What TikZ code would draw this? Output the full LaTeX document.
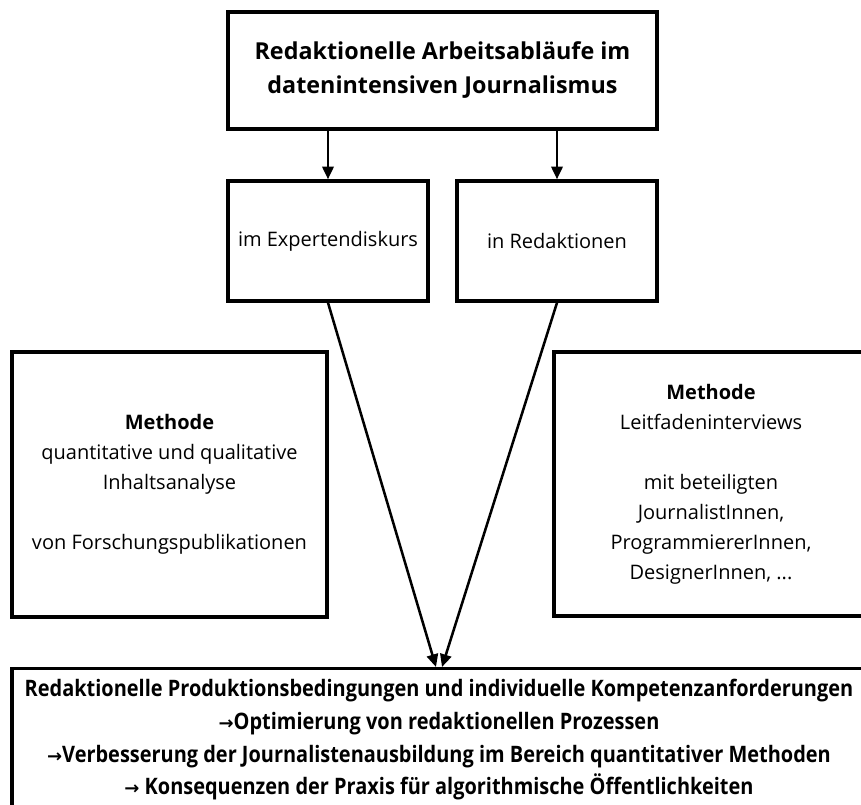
\documentclass[tikz,border=0pt]{standalone}
\usepackage{fontspec}
\setmainfont{Open Sans}
\newfontfamily\condfont[FakeStretch=0.88]{Open Sans}
\newfontfamily\arrowfont{DejaVu Sans}
\usetikzlibrary{arrows.meta,positioning}

\tikzset{
  box/.style = {draw, line width=2.6pt, align=center, inner sep=0pt},
  flow/.style = {line width=1.9pt, -{Triangle[length=9.5pt,width=8.5pt]}},
}
\newcommand{\pfeil}{{\arrowfont\fontsize{13.5}{25}\selectfont →}}

\begin{document}
\begin{tikzpicture}[x=0.75pt, y=-0.75pt]
            \useasboundingbox (0,0) rectangle (861,805);
            \clip (0,0) rectangle (861,805);

            %Thema
            \node [box, minimum width = 321.75pt, minimum height = 87.75pt,
            font = \fontsize{17.5}{25.5}\selectfont\bfseries]
            (thema)at(442.5,70.5){Redaktionelle Arbeitsabläufe im\\datenintensiven Journalismus};

            %Expertendiskurs
            \node [box, minimum width = 150pt, minimum height = 90pt, font = \fontsize{15}{22.5}\selectfont]
            (experten)at(328,241){im Expertendiskurs};
            %Redaktionen
            \node [box, minimum width = 150pt, minimum height = 90pt, font = \fontsize{15}{22.5}\selectfont]
            (redaktion)at(557,241){in Redaktionen};

            %Methode links
            \node [box, minimum width = 236.25pt, minimum height = 198.75pt, font = \fontsize{15}{22.5}\selectfont]
            (inhalt)at(169.5,484.5){\textbf{Methode}\\quantitative und qualitative\\Inhaltsanalyse\\[22.5pt]von Forschungspublikationen};
            %Methode rechts
            \node [box, minimum width = 235.5pt, minimum height = 198pt, font = \fontsize{15}{22.5}\selectfont]
            (interviews)at(711,484){\textbf{Methode}\\Leitfadeninterviews\\[22.5pt]mit beteiligten\\JournalistInnen,\\ProgrammiererInnen,\\DesignerInnen, ...};

            %Ergebnis
            \node [box, anchor = north, minimum width = 640.5pt, inner ysep = 8pt,
            font = \condfont\bfseries\fontsize{17}{24.5}\selectfont]
            (ergebnis)at(439,667){Redaktionelle Produktionsbedingungen und individuelle Kompetenzanforderungen\\
            \pfeil Optimierung von redaktionellen Prozessen\\
            \pfeil Verbesserung der Journalistenausbildung im Bereich quantitativer Methoden\\
            \pfeil\ Konsequenzen der Praxis für algorithmische Öffentlichkeiten};

            \coordinate (zielL) at ([xshift=-2.25pt]ergebnis.north);
            \coordinate (zielR) at ([xshift=2.25pt]ergebnis.north);

            \draw [flow](thema.south -| experten.north)--(experten.north);
            \draw [flow](thema.south -| redaktion.north)--(redaktion.north);
            \draw [flow](experten.south)--(zielL);
            \draw [flow](redaktion.south)--(zielR);

        \end{tikzpicture}
\end{document}
